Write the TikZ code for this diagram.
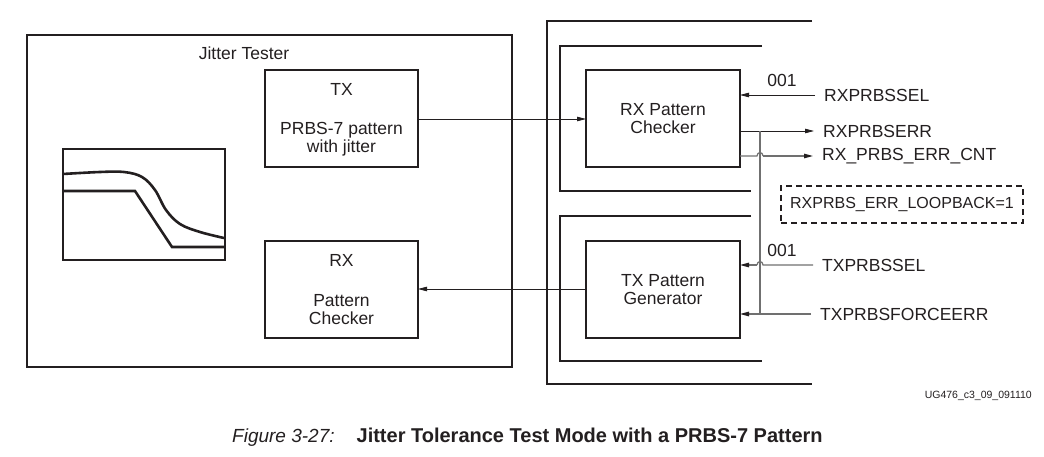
\documentclass[tikz,border=0pt]{standalone}
\usepackage{fontspec}
\setmainfont{Liberation Sans}
\usetikzlibrary{arrows.meta}
\definecolor{ink}{HTML}{231F20}
\definecolor{wire}{HTML}{707070}
\begin{document}
\begin{tikzpicture}[x=1pt,y=-1pt,
  box/.style={draw=ink,line width=1.8pt,inner sep=0pt,outer sep=0pt,font=\fontsize{17.5}{20}\selectfont,text=ink,align=center},
  frame/.style={draw=ink,line width=2pt},
  arr/.style={draw=ink,line width=0.8pt,-{Triangle[length=9pt,width=4.5pt]}},
  garr/.style={draw=wire,line width=1.2pt,arrows={-{Triangle[length=9pt,width=4.5pt,color=ink]}}},
  gline/.style={draw=wire,line width=1.2pt},
  sig/.style={font=\fontsize{17.5}{20}\selectfont,text=ink,anchor=west,inner ysep=2pt,inner xsep=9pt},
  val/.style={font=\fontsize{17.5}{20}\selectfont,text=ink,inner sep=0pt}
]
\useasboundingbox (0,0) rectangle (1044,457);

% Jitter tester
\node[box,minimum width=485pt,minimum height=332pt] (jt) at (269.5,201) {};
\node[val] (jtl) at (244,53) {Jitter Tester};
\node[box,minimum width=153pt,minimum height=97pt] (tx) at (341.5,118.5) {};
\node[val] (txa) at (341.5,89) {TX};
\node[val,align=center] (txb) at (341.5,139.5) {PRBS-7 pattern\\[-2pt]with jitter};
\node[box,minimum width=153pt,minimum height=97pt] (rx) at (341.5,289.5) {};
\node[val] (rxa) at (341.5,260) {RX};
\node[val,align=center] (rxb) at (341.5,310) {Pattern\\[-2pt]Checker};

% graph
\node[draw=ink,line width=1.4pt,minimum width=162pt,minimum height=111pt,inner sep=0pt] (gr) at (144,204.5) {};
\draw[ink,line width=2.6pt,line join=round] plot[smooth,tension=0.6] coordinates {(63,174) (100,172) (124,172) (142,177) (155,190) (166,210) (180,224) (200,232) (224,238)};
\draw[ink,line width=2.6pt] (63,191) -- (135,191) -- (172,247) -- (224,247);

% transceiver frames
\draw[frame] (812,21) -- (547,21) -- (547,384) -- (812,384);
\draw[frame] (762,46) -- (560,46) -- (560,191) -- (751,191);
\draw[frame] (751,216) -- (560,216) -- (560,361) -- (762,361);

\node[box,minimum width=154pt,minimum height=97pt] (rxpc) at (663,118.5) {RX Pattern\\[-2pt]Checker};
\node[box,minimum width=154pt,minimum height=97pt] (txpg) at (663,289.5) {TX Pattern\\[-2pt]Generator};

% main data paths
\draw[arr] (tx.east |- 0,119) -- (rxpc.west |- 0,119);
\draw[arr] (txpg.west |- 0,289) -- (rx.east |- 0,289);

% signals
\node[sig] (s1) at (815,95) {RXPRBSSEL};
\node[sig] (s2) at (814,131) {RXPRBSERR};
\node[sig] (s3) at (813,156) {RX\_PRBS\_ERR\_CNT};
\node[sig] (s4) at (813,265) {TXPRBSSEL};
\node[sig] (s5) at (811,314) {TXPRBSFORCEERR};
\node[val] (v1) at (782,80) {001};
\node[val] (v2) at (782,250) {001};

\coordinate (j1) at (760,131);
\coordinate (j2) at (760,314);

\draw[arr] (s1.west) -- (rxpc.east |- s1.west);
\draw[arr] (rxpc.east |- s2.west) -- (s2.west);
\draw[gline] (j1) -- (j2);
\draw[gline] (rxpc.east |- s3.west) -- (757,156) .. controls (757,151.5) and (763,151.5) .. (763,156);
\draw[garr] (763,156) -- (s3.west);
\draw[gline] (s4.west) -- (763,265) .. controls (763,260.5) and (757,260.5) .. (757,265);
\draw[garr] (757,265) -- (txpg.east |- s4.west);
\draw[garr] (s5.west) -- (txpg.east |- s5.west);

% loopback attribute
\node[draw=ink,line width=1.6pt,dash pattern=on 6pt off 4pt,minimum width=242pt,minimum height=37pt,inner sep=0pt,font=\fontsize{16}{18}\selectfont,text=ink] (lb) at (902,204.5) {RXPRBS\_ERR\_LOOPBACK=1};

% id and caption
\node[font=\fontsize{10.5}{12}\selectfont,text=ink,anchor=east,inner sep=0pt] (id) at (1032,396) {UG476\_c3\_09\_091110};
\node[anchor=west,inner sep=0pt,text=ink] (cap) at (232,437) {\fontsize{19}{22}\selectfont\textit{Figure 3-27:}\hspace{22pt}\fontsize{20}{22}\selectfont\textbf{Jitter Tolerance Test Mode with a PRBS-7 Pattern}};
\end{tikzpicture}
\end{document}
